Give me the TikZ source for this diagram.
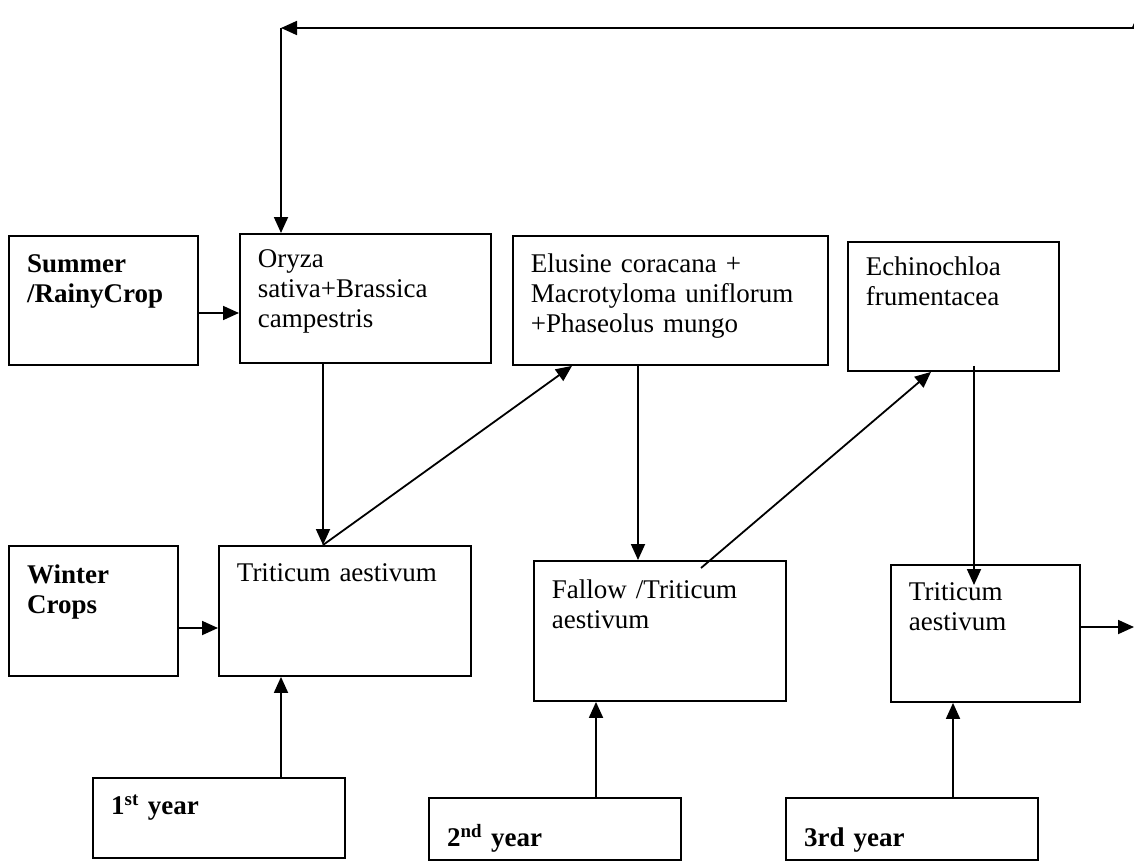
\documentclass[tikz,border=0pt]{standalone}
\usepackage{fontspec}
\setmainfont{Liberation Serif}
\usepackage{tikz}
\usetikzlibrary{arrows.meta,calc}

\begin{document}
\begin{tikzpicture}[x=1pt, y=-1pt,
  font=\fontsize{27}{30}\selectfont,
  cropbox/.style={draw, line width=1.9pt, anchor=north west, align=left,
    inner xsep=18pt, inner ysep=0pt},
  headbox/.style={cropbox, line width=2.3pt, font=\fontsize{27}{30}\selectfont\bfseries},
  arr/.style={line width=1.8pt, -{Triangle[length=16pt,width=14pt]}}]

  \useasboundingbox (0,0) rectangle (1134,861);

  % 夏季/雨季作物
  \node[headbox, text width=153pt, text height=36pt, text depth=93pt] (summer) at (8,235)
    {Summer\\/RainyCrop};
  \node[cropbox, text width=215pt, text height=34pt, text depth=95pt] (oryza) at (239,233)
    {Oryza\\sativa+Brassica\\campestris};
  \node[cropbox, text width=279pt, text height=37pt, text depth=92pt] (elusine) at (512,235)
    {Elusine coracana +\\Macrotyloma uniflorum\\+Phaseolus mungo};
  \node[cropbox, text width=175pt, text height=34pt, text depth=95pt] (echino) at (847,241)
    {Echinochloa\\frumentacea};

  % 冬季作物
  \node[headbox, text width=133pt, text height=37pt, text depth=93pt] (winter) at (8,545)
    {Winter\\Crops};
  \node[cropbox, text width=216pt, text height=36pt, text depth=94pt] (t1) at (218,545)
    {Triticum aestivum};
  \node[cropbox, text width=216pt, text height=38pt, text depth=102pt] (fallow) at (533,560)
    {Fallow /Triticum\\aestivum};
  \node[cropbox, text width=153pt, text height=36pt, text depth=101pt] (t3) at (890,564)
    {Triticum\\aestivum};

  % 年份
  \node[headbox, text width=216pt, text height=36pt, text depth=44pt] (year1) at (92,777)
    {1\textsuperscript{st} year};
  \node[headbox, text width=216pt, text height=48pt, text depth=14pt] (year2) at (428,797)
    {2\textsuperscript{nd} year};
  \node[headbox, text width=216pt, text height=48pt, text depth=14pt] (year3) at (785,797)
    {3rd year};

  % 水平箭头
  \draw[arr] (summer.east |- 0,313) -- (oryza.west |- 0,313);
  \draw[arr] (winter.east |- 0,628) -- (t1.west |- 0,628);
  \coordinate (out) at (1134,627);
  \draw[arr] (t3.east |- out) -- (out);

  % 顶部回路
  \coordinate (loop) at (1139,28);
  \coordinate (corner) at (281,28);
  \draw[arr] (loop) -- ++(0,-16);
  \draw[arr] (loop) -- (corner);
  \draw[arr] (corner) -- (corner |- oryza.north);

  % 向下箭头
  \draw[arr] (323,0 |- oryza.south) -- (323,0 |- t1.north);
  \draw[arr] (638,0 |- elusine.south) -- (638,0 |- fallow.north);
  \draw[arr] ($(974,0 |- echino.south)+(0,-6)$) -- ($(974,0 |- t3.north)+(0,21)$);

  % 斜向箭头
  \draw[arr] (323,0 |- t1.north) -- (572,0 |- elusine.south);
  \draw[arr] ($(701,0 |- fallow.north)+(0,8)$) -- (931,0 |- echino.south);

  % 年份向上箭头
  \foreach \y/\t/\x in {year1/t1/281, year2/fallow/596, year3/t3/953}{
    \draw[arr] (\x,0 |- \y.north) -- (\x,0 |- \t.south);
  }

\end{tikzpicture}
\end{document}
